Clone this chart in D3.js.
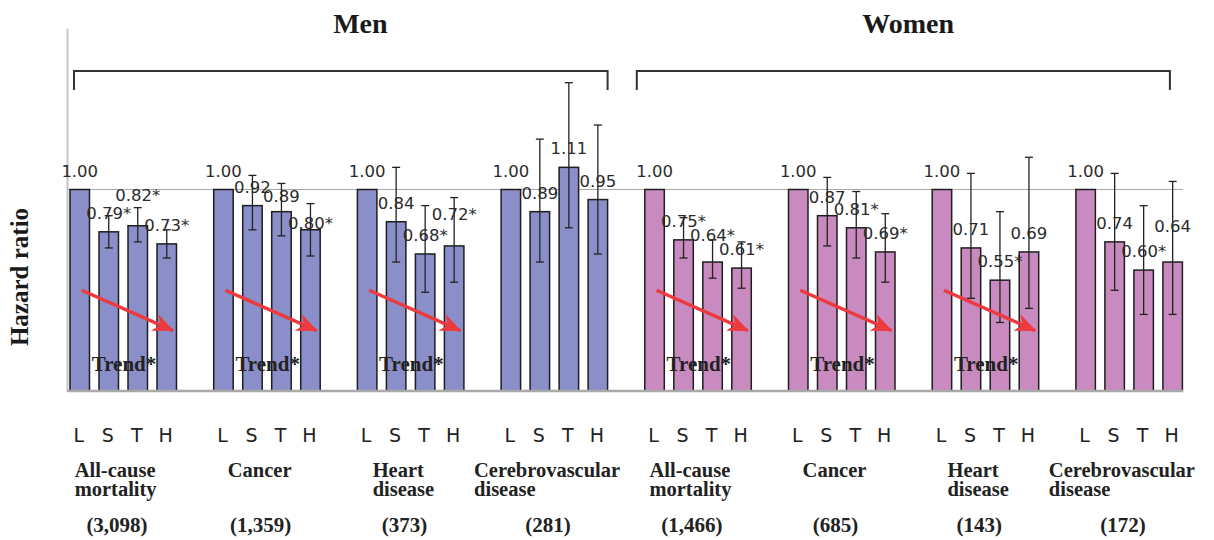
<!DOCTYPE html>
<html>
<head>
<meta charset="utf-8">
<script src="https://cdn.jsdelivr.net/npm/d3@7"></script>
<style>
body { margin: 0; background: #fff; }
svg { display: block; }
</style>
</head>
<body>
<svg width="1214" height="540"></svg>
<script>
// hazard ratios by intake level, men and women
var levels = ["L", "S", "T", "H"]
var causes = [["All-cause", "mortality"], ["Cancer"], ["Heart", "disease"], ["Cerebrovascular", "disease"]]
var sexes = ["Men", "Women"]

var menDeaths = ["(3,098)", "(1,359)", "(373)", "(281)"]
var womenDeaths = ["(1,466)", "(685)", "(143)", "(172)"]

var menHR = [[1.00, 0.79, 0.82, 0.73], [1.00, 0.92, 0.89, 0.80], [1.00, 0.84, 0.68, 0.72], [1.00, 0.89, 1.11, 0.95]]
var menLow = [[null, 0.71, 0.74, 0.66], [null, 0.80, 0.77, 0.67], [null, 0.64, 0.49, 0.54], [null, 0.64, 0.81, 0.68]]
var menHigh = [[null, 0.87, 0.91, 0.80], [null, 1.07, 1.03, 0.93], [null, 1.11, 0.92, 0.96], [null, 1.25, 1.53, 1.32]]
var menSig = [[false, true, true, true], [false, false, false, true], [false, false, true, true], [false, false, false, false]]
var menTrend = [true, true, true, false]

var womenHR = [[1.00, 0.75, 0.64, 0.61], [1.00, 0.87, 0.81, 0.69], [1.00, 0.71, 0.55, 0.69], [1.00, 0.74, 0.60, 0.64]]
var womenLow = [[null, 0.66, 0.56, 0.51], [null, 0.72, 0.66, 0.54], [null, 0.46, 0.34, 0.41], [null, 0.50, 0.38, 0.38]]
var womenHigh = [[null, 0.86, 0.75, 0.74], [null, 1.06, 0.99, 0.88], [null, 1.08, 0.89, 1.16], [null, 1.08, 0.92, 1.04]]
var womenSig = [[false, true, true, true], [false, false, true, true], [false, false, true, false], [false, false, true, false]]
var womenTrend = [true, true, true, false]

// label lifts (px) where the original moved a label off the bar top
var labelLift = [[0, 0, 12, 0], [0, 0, -3, -12], [0, 0, 0, 13], [0, 0, 0, 0],
                 [0, 0, 8, 0], [0, 0, 0, 0], [0, 0, 0, 0], [0, 0, 0, 17]]

var colors = {Men: "#8a8fc9", Women: "#c98abf"}

// build the 8 groups
var groups = []
sexes.forEach(function(sex, s)
{
    causes.forEach(function(c, i)
    {
        groups.push({
            sex: sex,
            cause: c,
            deaths: s == 0 ? menDeaths[i] : womenDeaths[i],
            trend: s == 0 ? menTrend[i] : womenTrend[i],
            bars: levels.map(function(lv, j)
            {
                return {
                    level: lv,
                    hr: s == 0 ? menHR[i][j] : womenHR[i][j],
                    lo: s == 0 ? menLow[i][j] : womenLow[i][j],
                    hi: s == 0 ? menHigh[i][j] : womenHigh[i][j],
                    sig: s == 0 ? menSig[i][j] : womenSig[i][j],
                    sex: sex
                }
            })
        })
    })
})

var svg = d3.select("svg")

var x0 = d3.scaleBand().domain(d3.range(groups.length)).range([70, 70 + 143.7 * 8]).padding(0)
var x1 = d3.scaleBand().domain(levels).range([0, 106.5]).paddingInner(0.328).paddingOuter(0)
var y = d3.scaleLinear().domain([0, 1.8]).range([391, 28.3])

var plotLeft = 67, plotRight = 1183
var serif = "Liberation Serif, Times New Roman, serif"
var sans = "DejaVu Sans, Verdana, sans-serif"

// y axis line (no ticks)
svg.append("g")
    .attr("transform", "translate(" + plotLeft + ",0)")
    .call(d3.axisLeft(y).tickValues([]).tickSizeOuter(0))
    .select(".domain").attr("stroke", "#c4c4c4").attr("stroke-width", 2)

// reference line at 1.00
svg.append("line")
    .attr("x1", plotLeft).attr("x2", plotRight)
    .attr("y1", y(1)).attr("y2", y(1))
    .attr("stroke", "#a8a8a8").attr("stroke-width", 1.2)

var defs = svg.append("defs")
defs.append("marker")
    .attr("id", "head")
    .attr("viewBox", "0 -10 22 20")
    .attr("refX", 20).attr("refY", 0)
    .attr("markerWidth", 22).attr("markerHeight", 20)
    .attr("markerUnits", "userSpaceOnUse")
    .attr("orient", "auto")
    .append("path")
    .attr("d", "M0,-9L21,0L0,9L6,0Z")
    .attr("fill", "#ec3a3f")

var g = svg.selectAll(".grp")
    .data(groups)
    .enter()
    .append("g")
    .attr("class", "grp")
    .attr("transform", function(d, i) { return "translate(" + x0(i) + ",0)" })

// bars
g.selectAll("rect")
    .data(function(d) { return d.bars })
    .enter()
    .append("rect")
    .attr("x", function(b) { return x1(b.level) })
    .attr("width", x1.bandwidth())
    .attr("y", function(b) { return y(b.hr) })
    .attr("height", function(b) { return y(0) - y(b.hr) })
    .attr("fill", function(b) { return colors[b.sex] })
    .attr("stroke", "#1e1e1e")
    .attr("stroke-width", 1.5)

// error bars
var err = g.selectAll(".err")
    .data(function(d) { return d.bars.filter(function(b) { return b.lo != null }) })
    .enter()
    .append("g")
    .attr("class", "err")
    .attr("stroke", "#222")
    .attr("stroke-width", 1.3)

err.append("line")
    .attr("x1", function(b) { return x1(b.level) + x1.bandwidth() / 2 })
    .attr("x2", function(b) { return x1(b.level) + x1.bandwidth() / 2 })
    .attr("y1", function(b) { return y(b.lo) })
    .attr("y2", function(b) { return y(b.hi) })

err.selectAll(".cap")
    .data(function(b) { return [b.lo, b.hi].map(function(v) { return {v: v, b: b} }) })
    .enter()
    .append("line")
    .attr("x1", function(c) { return x1(c.b.level) + x1.bandwidth() / 2 - 4 })
    .attr("x2", function(c) { return x1(c.b.level) + x1.bandwidth() / 2 + 4 })
    .attr("y1", function(c) { return y(c.v) })
    .attr("y2", function(c) { return y(c.v) })

// value labels
g.each(function(d, gi)
{
    d3.select(this).selectAll(".val")
        .data(d.bars)
        .enter()
        .append("text")
        .attr("class", "val")
        .attr("x", function(b) { return x1(b.level) + x1.bandwidth() / 2 })
        .attr("y", function(b, j) { return y(b.hr) - 13 - labelLift[gi][j] })
        .attr("text-anchor", "middle")
        .attr("font-family", sans)
        .attr("font-size", 16.5)
        .attr("fill", "#2b2b2b")
        .text(function(b) { return b.hr.toFixed(2) + (b.sig ? "*" : "") })
})

// trend arrows + labels
var tg = g.filter(function(d) { return d.trend })

tg.append("line")
    .attr("x1", x1("L") + x1.bandwidth() / 2 + 2)
    .attr("y1", y(0.5))
    .attr("x2", x1("H") + 16)
    .attr("y2", y(0.3))
    .attr("stroke", "#ec3a3f")
    .attr("stroke-width", 3.5)
    .attr("marker-end", "url(#head)")

tg.append("text")
    .attr("x", 54)
    .attr("y", 371)
    .attr("text-anchor", "middle")
    .attr("font-family", serif)
    .attr("font-weight", "bold")
    .attr("font-size", 21)
    .attr("fill", "#222")
    .text("Trend*")

// baseline
svg.append("line")
    .attr("x1", plotLeft).attr("x2", plotRight)
    .attr("y1", y(0)).attr("y2", y(0))
    .attr("stroke", "#a9a9a9").attr("stroke-width", 2.5)

// level letters
g.selectAll(".lv")
    .data(levels)
    .enter()
    .append("text")
    .attr("class", "lv")
    .attr("x", function(l) { return x1(l) + x1.bandwidth() / 2 - 1 })
    .attr("y", 442)
    .attr("text-anchor", "middle")
    .attr("font-family", sans)
    .attr("font-size", 19)
    .attr("fill", "#222")
    .text(function(l) { return l })

// cause names (left aligned block, centred under group)
g.each(function(d)
{
    var t = d3.select(this).append("text")
        .attr("font-family", serif)
        .attr("font-weight", "bold")
        .attr("font-size", 20.5)
        .attr("fill", "#222")
    d.cause.forEach(function(line, k)
    {
        t.append("tspan").attr("x", 0).attr("y", 477 + k * 19).text(line)
    })
    var w = t.node().getBBox().width
    t.attr("transform", "translate(" + (53 - 7 - w / 2) + ",0)")
})

// death counts
g.append("text")
    .attr("x", 53 - 6)
    .attr("y", 532)
    .attr("text-anchor", "middle")
    .attr("font-family", serif)
    .attr("font-weight", "bold")
    .attr("font-size", 21)
    .attr("fill", "#222")
    .text(function(d) { return d.deaths })

// sex brackets and titles
var brackets = [
    {name: "Men", a: x0(0) + 4, b: x0(3) + 106.5, tx: x0(2) + 3},
    {name: "Women", a: x0(4) - 8, b: x0(7) + 94, tx: x0(6) - 24}
]

svg.selectAll(".br")
    .data(brackets)
    .enter()
    .append("path")
    .attr("d", function(b) { return "M" + b.a + ",90V71H" + b.b + "V90" })
    .attr("fill", "none")
    .attr("stroke", "#333")
    .attr("stroke-width", 2)

svg.selectAll(".title")
    .data(brackets)
    .enter()
    .append("text")
    .attr("x", function(b) { return b.tx })
    .attr("y", 33)
    .attr("text-anchor", "middle")
    .attr("font-family", serif)
    .attr("font-weight", "bold")
    .attr("font-size", 28)
    .attr("fill", "#1a1a1a")
    .text(function(b) { return b.name })

// y title
svg.append("text")
    .attr("transform", "translate(28,277) rotate(-90)")
    .attr("text-anchor", "middle")
    .attr("font-family", serif)
    .attr("font-weight", "bold")
    .attr("font-size", 25)
    .attr("fill", "#1a1a1a")
    .text("Hazard ratio")
</script>
</body>
</html>
